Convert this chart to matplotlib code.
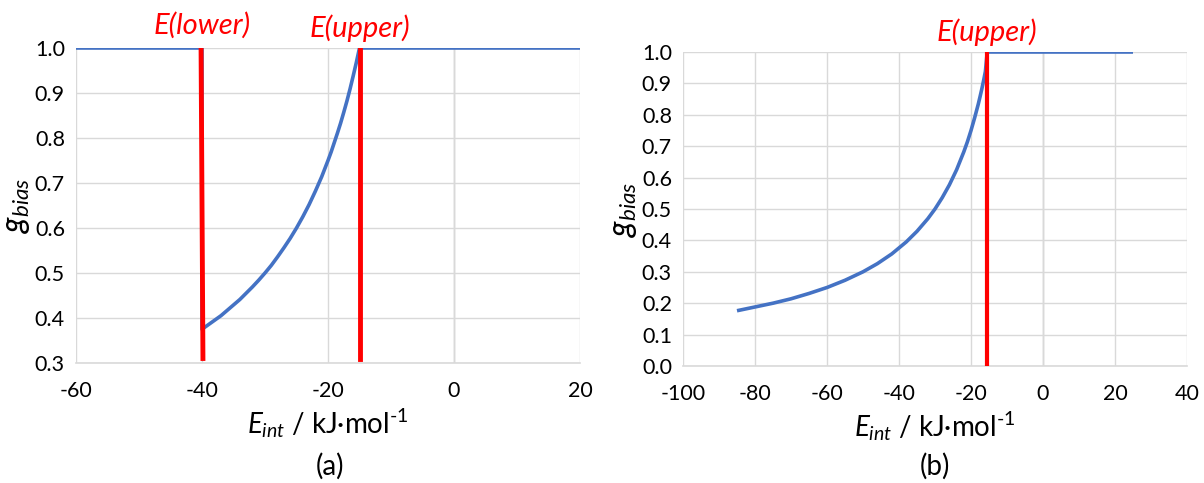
import matplotlib
matplotlib.use("Agg")
import matplotlib.pyplot as plt

# ---- data ----
# panel (a)
a_x = [-60, -40, -40, -39, -38, -37, -36, -35, -34, -33, -32, -31, -30, -29, -28, -27, -26, -25, -24, -23,
       -22, -21, -20, -19.5, -19, -18.5, -18, -17.5, -17, -16.5, -16, -15.5, -15, 20]
a_y = [1.0, 1.0, 0.375, 0.385, 0.395, 0.405, 0.417, 0.429, 0.441, 0.455, 0.469, 0.484, 0.50, 0.517, 0.536,
       0.556, 0.577, 0.60, 0.625, 0.652, 0.682, 0.714, 0.75, 0.769, 0.79, 0.811, 0.833, 0.857, 0.882, 0.909,
       0.938, 0.968, 1.0, 1.0]
a_lower = -40
a_upper = -15
a_red_bottom = 0.31

# panel (b)
b_x = [-85, -80, -75, -70, -65, -60, -55, -50, -46, -42, -38, -35, -32, -30, -28, -26, -24, -22, -21, -20,
       -19, -18, -17.5, -17, -16.5, -16, -15.5, 25]
b_y = [0.176, 0.188, 0.20, 0.214, 0.231, 0.25, 0.273, 0.30, 0.326, 0.357, 0.395, 0.429, 0.469, 0.50,
       0.536, 0.577, 0.625, 0.682, 0.714, 0.75, 0.79, 0.833, 0.857, 0.882, 0.909, 0.938, 1.0, 1.0]
b_upper = -15.5

a_xticks = [-60, -40, -20, 0, 20]
a_yticks = [0.3, 0.4, 0.5, 0.6, 0.7, 0.8, 0.9, 1.0]
b_xticks = [-100, -80, -60, -40, -20, 0, 20, 40]
b_yticks = [0.0, 0.1, 0.2, 0.3, 0.4, 0.5, 0.6, 0.7, 0.8, 0.9, 1.0]

plt.rcParams['font.family'] = ['Lato', 'DejaVu Sans']
plt.rcParams['mathtext.fontset'] = 'custom'
plt.rcParams['mathtext.rm'] = 'Lato'
plt.rcParams['mathtext.it'] = 'Lato:italic'
BLUE = '#4472C4'
RED = '#FF0000'
GRID = '#D9D9D9'

fig = plt.figure(figsize=(12.04, 4.83), dpi=100)
axa = fig.add_axes([76/1204, 1-363/483, 504/1204, 315/483])
axb = fig.add_axes([683/1204, 1-366/483, 504/1204, 314/483])


def style(ax, xlim, ylim, xt, yt):
    ax.set_xlim(*xlim)
    ax.set_ylim(*ylim)
    ax.set_xticks(xt)
    ax.set_yticks(yt)
    ax.set_xticklabels([f"{v:g}" for v in xt])
    ax.set_yticklabels([f"{v:.1f}" for v in yt])
    for s in ax.spines.values():
        s.set_visible(False)
    ax.spines['bottom'].set_visible(True)
    ax.spines['bottom'].set_color(GRID)
    ax.spines['bottom'].set_linewidth(1.2)
    ax.tick_params(length=0, labelsize=15.5, colors='#000000')
    ax.tick_params(axis='x', pad=13)
    ax.tick_params(axis='y', pad=8)
    ax.grid(True, color=GRID, linewidth=1.0)
    ax.set_axisbelow(True)
    ax.axvline(0, color='#BFBFBF', linewidth=1.0, zorder=0.5)
    ax.set_xlabel(r"$E_{int}$ / kJ·mol$^{\text{-1}}$", fontsize=20, labelpad=4)
    ax.set_ylabel(r"$g_{bias}$", fontsize=23, labelpad=2)


style(axa, (-60, 20), (0.3, 1.0), a_xticks, a_yticks)
style(axb, (-100, 40), (0.0, 1.0), b_xticks, b_yticks)

# panel (a)
axa.plot(a_x, a_y, color=BLUE, linewidth=2.6, zorder=3, solid_capstyle='butt', solid_joinstyle='round')
axa.plot([a_lower - 0.15, a_lower + 0.15], [1.0, a_red_bottom], color=RED, linewidth=3.5, zorder=4)
axa.plot([a_upper, a_upper], [1.0, a_red_bottom], color=RED, linewidth=3.5, zorder=4)
fig.text(202/1204, 1-25/483, "E(lower)", color=RED, fontsize=21, style='italic', ha='center', va='center')
fig.text(360/1204, 1-28/483, "E(upper)", color=RED, fontsize=21, style='italic', ha='center', va='center')
fig.text(330/1204, 1-466/483, "(a)", fontsize=20, ha='center', va='center')

# panel (b)
axb.plot(b_x, b_y, color=BLUE, linewidth=2.6, zorder=3, solid_capstyle='butt', solid_joinstyle='round')
axb.plot([b_upper, b_upper], [0.0, 1.0], color=RED, linewidth=3.0, zorder=4)
fig.text(987/1204, 1-32/483, "E(upper)", color=RED, fontsize=21, style='italic', ha='center', va='center')
fig.text(935/1204, 1-466/483, "(b)", fontsize=20, ha='center', va='center')

fig.savefig("out.png", dpi=100)
